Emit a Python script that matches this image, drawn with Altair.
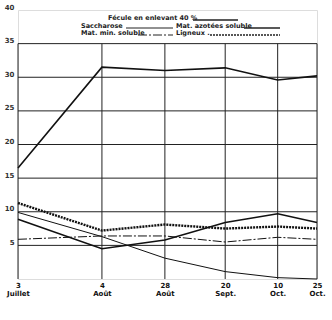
import altair as alt
import pandas as pd

days = [0, 32, 56, 79, 99, 114]
tick_first = ["3", "4", "28", "20", "10", "25"]
tick_second = ["Juillet", "Août", "Août", "Sept.", "Oct.", "Oct."]
y_ticks = [5, 10, 15, 20, 25, 30, 35]

fecule = [16.5, 31.5, 31.0, 31.4, 29.6, 30.2]
ligneux = [11.3, 7.2, 8.1, 7.5, 7.8, 7.5]
saccharose = [9.9, 6.3, 3.1, 1.1, 0.2, 0.0]
mat_azotees = [8.9, 4.5, 5.8, 8.4, 9.7, 8.4]
mat_min = [5.9, 6.4, 6.4, 5.5, 6.2, 5.9]

series = {
    "Fécule": fecule,
    "Ligneux": ligneux,
    "Saccharose": saccharose,
    "Mat. azotées soluble": mat_azotees,
    "Mat. min. soluble": mat_min,
}
styles = {
    "Fécule": dict(strokeWidth=1.6),
    "Ligneux": dict(strokeWidth=2.4, strokeDash=[2, 1]),
    "Saccharose": dict(strokeWidth=1.0),
    "Mat. azotées soluble": dict(strokeWidth=1.6),
    "Mat. min. soluble": dict(strokeWidth=1.0, strokeDash=[9, 2, 2, 2]),
}

rows = []
for name, vals in series.items():
    for d, v in zip(days, vals):
        rows.append({"serie": name, "jour": d, "valeur": v})
df = pd.DataFrame(rows)

label_expr = " : ".join(
    f"datum.value == {d} ? ['{a}', '{b}']" for d, a, b in zip(days, tick_first, tick_second)
) + " : ''"

FONT = "DejaVu Sans"

xscale = alt.Scale(domain=[0, 114], nice=False, zero=False)
yscale = alt.Scale(domain=[0, 40], nice=False)

xaxis = alt.Axis(
    values=days, labelExpr=label_expr, title=None, grid=False,
    domain=False, ticks=False, labelFont=FONT, labelFontSize=7,
    labelFontWeight="bold", labelColor="#111", labelPadding=2, labelLineHeight=8,
    labelFlush=False, labelOverlap=False, labelBound=False,
)
yaxis = alt.Axis(
    values=[0, 5, 10, 15, 20, 25, 30, 35, 40],
    labelExpr="datum.value == 0 ? '' : datum.label",
    title=None, grid=False, domain=False, ticks=False,
    labelFont=FONT, labelFontSize=7, labelFontWeight="bold", labelColor="#333",
    labelPadding=4, labelBaseline="bottom",
)

layers = []

# vertical grid lines, from 0 up to 35
vgrid = alt.Chart(pd.DataFrame({"d": days, "lo": [0] * len(days), "hi": [35] * len(days)})).mark_rule(
    color="#222", strokeWidth=1
).encode(
    x=alt.X("d:Q", scale=xscale, axis=xaxis),
    y=alt.Y("lo:Q", scale=yscale, axis=yaxis),
    y2="hi:Q",
)
layers.append(vgrid)
# horizontal grid lines
hgrid = alt.Chart(pd.DataFrame({"v": y_ticks})).mark_rule(color="#222", strokeWidth=1).encode(
    y=alt.Y("v:Q", scale=yscale, axis=yaxis)
)
layers.append(hgrid)

for name in series:
    layers.append(
        alt.Chart(df[df.serie == name]).mark_line(color="#111", **styles[name]).encode(
            x=alt.X("jour:Q", scale=xscale, axis=xaxis),
            y=alt.Y("valeur:Q", scale=yscale, axis=yaxis),
        )
    )

legend_items = [
    ("Fécule en enlevant 40 %", 90, 8, 175, 220, "Fécule"),
    ("Saccharose", 63, 16, 108, 155, "Saccharose"),
    ("Mat. azotées soluble", 158, 16, 226, 262, "Mat. azotées soluble"),
    ("Mat. min. soluble", 63, 23, 120, 155, "Mat. min. soluble"),
    ("Ligneux .", 158, 23, 192, 262, "Ligneux"),
]
for txt, px, py, l0, l1, key in legend_items:
    layers.append(
        alt.Chart(pd.DataFrame({"t": [txt]})).mark_text(
            align="left", baseline="middle", font=FONT, fontSize=6.5, fontWeight="bold", color="#222"
        ).encode(text="t:N", x=alt.value(px), y=alt.value(py))
    )
    st = dict(styles[key])
    st["strokeWidth"] = min(st["strokeWidth"], 1.4)
    layers.append(
        alt.Chart(pd.DataFrame({"t": [key]})).mark_rule(color="#222", **st).encode(
            x=alt.value(l0), x2=alt.value(l1), y=alt.value(py + 2)
        )
    )

chart = alt.layer(*layers).properties(
    width=299, height=269,
    autosize=alt.AutoSizeParams(type="none"),
    padding={"left": 18, "top": 10, "right": 15, "bottom": 41},
).configure_view(stroke="#111", strokeWidth=1.2).configure(background="white")

chart.save("out.html", embed_options={"renderer": "svg", "actions": False})
